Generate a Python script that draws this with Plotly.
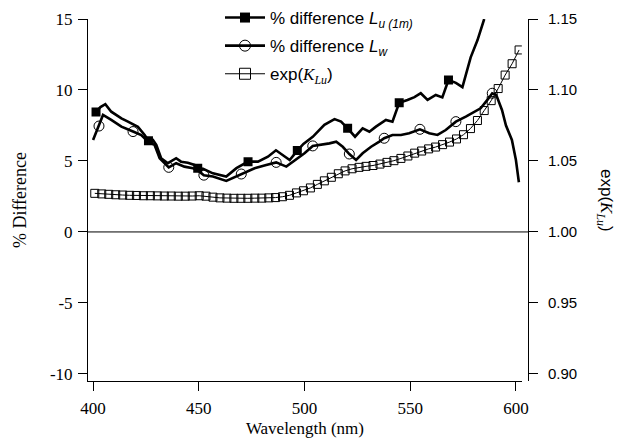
import plotly.graph_objects as go

# ---------------- data ----------------
lu_wl = [400.6, 401.4, 403.5, 405.8, 408.6, 413.4, 416.5, 421.2, 424.4, 426.2, 428.3, 429.9,
         432.2, 435.4, 439.3, 441.6, 444.8, 448.0, 449.5, 452.0, 456.7, 463.0, 467.8, 473.3,
         478.0, 482.7, 486.5, 491.4, 493.0, 496.6, 499.5, 503.9, 509.4, 514.2, 517.3, 520.4,
         523.9, 527.5, 530.7, 533.8, 538.5, 541.6, 544.8, 548.7, 552.0, 555.0, 558.2, 562.1,
         565.2, 568.1, 571.6, 574.7, 578.6, 581.8, 585.0]
lu_pct = [8.2, 8.45, 8.8, 9.0, 8.47, 8.0, 7.77, 7.4, 6.83, 6.43, 6.48, 6.13,
          5.19, 4.84, 5.19, 4.95, 4.88, 4.72, 4.49, 4.45, 4.13, 3.9, 4.49, 4.95,
          4.95, 5.3, 5.75, 5.2, 5.07, 5.73, 6.2, 6.7, 7.55, 7.95, 7.77, 7.3,
          6.71, 7.3, 7.06, 7.42, 7.89, 7.77, 9.1, 9.3, 9.5, 9.77, 9.3, 9.65,
          9.48, 10.7, 10.5, 10.2, 12.3, 13.5, 15.0]
lu_marker_wl = [401.4, 426.2, 449.5, 473.3, 496.6, 520.4, 544.8, 568.1]

lw_wl = [400.0, 402.8, 404.7, 408.6, 413.4, 418.9, 422.8, 426.0, 429.1, 431.5, 435.8, 439.3,
         443.2, 447.2, 450.3, 452.4, 456.7, 463.0, 470.1, 476.4, 481.9, 486.6, 491.4, 495.0,
         497.6, 500.0, 503.9, 507.9, 511.8, 515.0, 518.1, 521.2, 524.4, 527.5, 531.5, 535.4,
         537.7, 541.6, 545.6, 549.5, 554.6, 559.0, 562.9, 566.8, 571.6, 576.3, 580.2, 583.3,
         586.5, 588.8, 590.7, 593.4, 595.3, 598.1, 600.0, 601.4]
lw_pct = [6.48, 7.46, 8.24, 7.89, 7.42, 7.07, 6.83, 6.36, 6.13, 5.19, 4.55, 4.84,
          4.6, 4.49, 4.25, 4.0, 3.9, 3.59, 4.08, 4.49, 4.72, 4.9, 4.6, 5.0,
          5.3, 5.54, 6.06, 6.13, 6.24, 6.36, 6.0, 5.49, 5.07, 5.54, 6.0, 6.36,
          6.6, 6.83, 6.83, 6.95, 7.23, 6.95, 6.83, 7.18, 7.77, 8.12, 8.47, 8.71,
          9.3, 9.77, 9.65, 8.59, 7.5, 6.48, 5.07, 3.5]
lw_marker_wl = [402.8, 418.9, 435.8, 452.4, 470.1, 486.6, 503.9, 521.2, 537.7, 554.6, 571.6, 588.8]

k_wl = [400.8, 404.1, 407.4, 410.7, 414.0, 417.3, 420.5, 423.8, 427.1, 430.4, 433.7, 437.0,
        440.3, 443.6, 446.9, 450.2, 453.4, 456.7, 460.0, 463.3, 466.6, 469.9, 473.2, 476.5,
        479.8, 483.1, 486.3, 489.6, 492.9, 496.2, 499.5, 502.8, 506.1, 509.4, 512.7, 516.0,
        519.2, 522.5, 525.8, 529.1, 532.4, 535.7, 539.0, 542.3, 545.6, 548.9, 552.1, 555.4,
        558.7, 562.0, 565.3, 568.6, 571.9, 575.2, 578.5, 581.8, 585.0, 588.3, 591.6, 594.9,
        598.2, 601.5]
k_exp = [1.0272, 1.0268, 1.0265, 1.0262, 1.0260, 1.0258, 1.0257, 1.0255, 1.0255, 1.0254, 1.0253, 1.0253,
         1.0252, 1.0252, 1.0253, 1.0255, 1.0252, 1.0245, 1.0240, 1.0238, 1.0237, 1.0237, 1.0237, 1.0238,
         1.0238, 1.0240, 1.0242, 1.0248, 1.0258, 1.0275, 1.0290, 1.0310, 1.0335, 1.0360, 1.0385, 1.0410,
         1.0430, 1.0445, 1.0455, 1.0462, 1.0468, 1.0478, 1.0490, 1.0502, 1.0518, 1.0535, 1.0555, 1.0570,
         1.0585, 1.0598, 1.0615, 1.0633, 1.0655, 1.0685, 1.0728, 1.0785, 1.0855, 1.0925, 1.1010, 1.1105,
         1.1185, 1.1282]

x_ticks = [400, 450, 500, 550, 600]
y_ticks = [-10, -5, 0, 5, 10, 15]
y2_ticks = [0.90, 0.95, 1.00, 1.05, 1.10, 1.15]

# ---------------- figure ----------------
SERIF = "Liberation Serif, Times New Roman, serif"
SANS = "Liberation Sans, Arial, sans-serif"

lu_lookup = dict(zip(lu_wl, lu_pct))
lw_lookup = dict(zip(lw_wl, lw_pct))

fig = go.Figure()

# curves
fig.add_trace(go.Scatter(x=lu_wl, y=lu_pct, mode="lines", line=dict(color="black", width=2.6),
                         showlegend=False, hoverinfo="skip"))
fig.add_trace(go.Scatter(x=lu_marker_wl, y=[lu_lookup[w] for w in lu_marker_wl], mode="markers",
                         marker=dict(symbol="square", size=9, color="black"),
                         showlegend=False, hoverinfo="skip"))
fig.add_trace(go.Scatter(x=lw_wl, y=lw_pct, mode="lines", line=dict(color="black", width=2.6),
                         showlegend=False, hoverinfo="skip"))
fig.add_trace(go.Scatter(x=lw_marker_wl, y=[lw_lookup[w] for w in lw_marker_wl], mode="markers",
                         marker=dict(symbol="circle-open", size=10, color="black", line=dict(width=1)),
                         showlegend=False, hoverinfo="skip"))
fig.add_trace(go.Scatter(x=k_wl, y=k_exp, mode="lines+markers", yaxis="y2",
                         line=dict(color="black", width=1),
                         marker=dict(symbol="square-open", size=8, color="black", line=dict(width=1)),
                         showlegend=False, hoverinfo="skip"))

# legend entries
fig.add_trace(go.Scatter(x=[None], y=[None], mode="lines+markers", legendgroup="a",
                         name="% difference <i>L</i><sub><i>u (1m)</i></sub>",
                         line=dict(color="black", width=2.6),
                         marker=dict(symbol="square", size=10, color="black")))
fig.add_trace(go.Scatter(x=[None], y=[None], mode="lines+markers", legendgroup="b",
                         name="% difference <i>L</i><sub><i>w</i></sub>",
                         line=dict(color="black", width=2.6),
                         marker=dict(symbol="circle-open", size=11, color="black", line=dict(width=1))))
fig.add_trace(go.Scatter(x=[None], y=[None], mode="lines+markers", legendgroup="c",
                         name="exp(<span style='font-family:Liberation Serif'><i>K</i><sub><i>Lu</i></sub></span>)",
                         line=dict(color="black", width=1),
                         marker=dict(symbol="square-open", size=11, color="black", line=dict(width=1))))

fig.add_shape(type="line", xref="paper", yref="y", x0=0, x1=1, y0=0, y1=0,
              line=dict(color="black", width=1))

DOM_TOP = (381 - 19) / 381

fig.update_layout(
    width=621, height=439,
    margin=dict(l=88, r=93, t=0, b=58),
    paper_bgcolor="white", plot_bgcolor="white",
    showlegend=True,
    legend=dict(x=0.30, y=1.0, xanchor="left", yanchor="top", traceorder="grouped",
                tracegroupgap=3,
                bgcolor="rgba(0,0,0,0)", font=dict(family=SANS, size=17, color="black"),
                itemwidth=40),
    xaxis=dict(domain=[0, 0.986], range=[397.6, 602.8], tickvals=x_ticks, automargin=False,
               showline=True, linecolor="black", linewidth=1, ticks="outside", ticklen=9,
               tickcolor="black", showgrid=False, zeroline=False, ticklabelstandoff=3,
               tickfont=dict(family=SERIF, size=17, color="black"),
               title=dict(text="Wavelength (nm)", font=dict(family=SERIF, size=17, color="black"),
                          standoff=4)),
    yaxis=dict(domain=[0, DOM_TOP], range=[-10.5, 15], tickvals=y_ticks, automargin=False,
               ticktext=[str(v) for v in y_ticks],
               showline=True, linecolor="black", linewidth=1, ticks="outside", ticklen=9,
               tickcolor="black", showgrid=False, zeroline=False, ticklabelstandoff=2,
               tickfont=dict(family=SERIF, size=17, color="black"),
               title=dict(text="% Difference", font=dict(family=SERIF, size=18, color="black"),
                          standoff=18)),
    yaxis2=dict(domain=[0, DOM_TOP], overlaying="y", side="right", anchor="free", position=1.0,
                range=[0.895, 1.15], tickvals=y2_ticks, tickformat=".2f", automargin=False,
                showline=True, linecolor="black", linewidth=1, ticks="outside", ticklen=9,
                tickcolor="black", showgrid=False, zeroline=False, ticklabelstandoff=7,
                tickfont=dict(family=SANS, size=15, color="black")),
    annotations=[dict(text="exp(<span style='font-family:Liberation Serif'><i>K</i><sub><i>Lu</i></sub></span>)",
                      xref="paper", yref="paper", x=(605 - 88) / 440, y=(381 - 200) / 381,
                      xanchor="center", yanchor="middle", textangle=90, showarrow=False,
                      font=dict(family=SANS, size=17, color="black"))],
)

fig.write_html("out.html")
